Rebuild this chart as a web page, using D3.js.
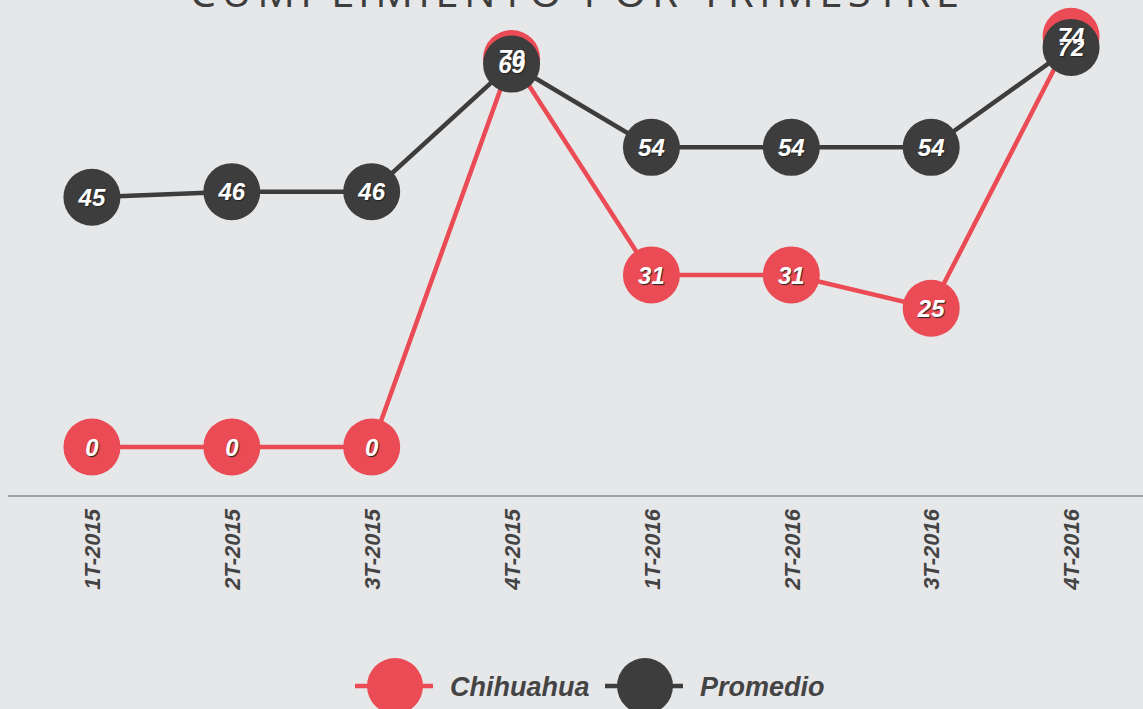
<!DOCTYPE html>
<html>
<head>
<meta charset="utf-8">
<script src="https://cdn.jsdelivr.net/npm/d3@7"></script>
<style>
  body { margin: 0; background: #e6e7e9; }
  #wrapper { width: 1143px; height: 709px; overflow: hidden; }
</style>
</head>
<body>
<div id="wrapper"></div>
<script>
const quarters = ["1T-2015", "2T-2015", "3T-2015", "4T-2015", "1T-2016", "2T-2016", "3T-2016", "4T-2016"]
const chihuahua = [0, 0, 0, 70, 31, 31, 25, 74]
const promedio = [45, 46, 46, 69, 54, 54, 54, 72]
const seriesNames = ["Chihuahua", "Promedio"]
const seriesColors = ["#ea4b54", "#3d3d3d"]

const width = 1143
const height = 709

const wrapper = d3.select("#wrapper")
    .append("svg")
    .attr("width", width)
    .attr("height", height)

wrapper.append("rect")
    .attr("width", width)
    .attr("height", height)
    .attr("fill", "#e6e7e9")

// title, cut off at the top like the original
wrapper.append("text")
    .attr("x", 577)
    .attr("y", 7)
    .attr("text-anchor", "middle")
    .attr("font-family", "'Open Sans', sans-serif")
    .attr("font-size", "42px")
    .attr("font-weight", 500)
    .attr("letter-spacing", "5.3px")
    .attr("fill", "#3d3d3d")
    .text("CUMPLIMIENTO POR TRIMESTRE")

const xScaler = d3.scalePoint()
    .domain(quarters)
    .range([22, 1141])
    .padding(0.5)

const yScaler = d3.scaleLinear()
    .domain([0, 80])
    .range([447, 3])

// x axis
const xAxisGen = d3.axisBottom(xScaler).tickSize(0).tickPadding(0)
const xAxis = wrapper.append("g")
    .attr("transform", "translate(0,496)")
    .call(xAxisGen)
xAxis.select(".domain").remove()
xAxis.append("line")
    .attr("x1", 8)
    .attr("x2", width)
    .attr("stroke", "#8a8a8a")
    .attr("stroke-width", 1.5)
xAxis.selectAll(".tick text")
    .attr("transform", "rotate(-90)")
    .attr("x", -13)
    .attr("y", 0)
    .attr("dy", "0.35em")
    .attr("text-anchor", "end")
    .attr("font-family", "'Liberation Sans', Arial, sans-serif")
    .attr("font-size", "22px")
    .attr("font-weight", "bold")
    .attr("font-style", "italic")
    .attr("fill", "#444")

const lineGen = d3.line()
    .x((d, i) => xScaler(quarters[i]))
    .y(d => yScaler(d))

const allSeries = [chihuahua, promedio]

allSeries.forEach((values, s) => {
    wrapper.append("path")
        .datum(values)
        .attr("d", lineGen)
        .attr("fill", "none")
        .attr("stroke", seriesColors[s])
        .attr("stroke-width", 4.5)
})

allSeries.forEach((values, s) => {
    wrapper.append("g")
        .selectAll("circle")
        .data(values)
        .join("circle")
        .attr("cx", (d, i) => xScaler(quarters[i]))
        .attr("cy", d => yScaler(d))
        .attr("r", 28.5)
        .attr("fill", seriesColors[s])
})

allSeries.forEach((values, s) => {
    wrapper.append("g")
        .selectAll("text")
        .data(values)
        .join("text")
        .attr("x", (d, i) => xScaler(quarters[i]))
        .attr("y", d => yScaler(d))
        .attr("dy", "0.36em")
        .attr("text-anchor", "middle")
        .attr("font-family", "'Liberation Sans', Arial, sans-serif")
        .attr("font-size", "24px")
        .attr("font-weight", "bold")
        .attr("font-style", "italic")
        .attr("fill", "#fff")
        .style("text-shadow", "1px 1px 1px #222")
        .text(d => d)
})

// legend
const legend = wrapper.append("g")
const legendX = [395, 645]
seriesNames.forEach((name, s) => {
    const g = legend.append("g").attr("transform", `translate(${legendX[s]},686)`)
    g.append("line")
        .attr("x1", -40)
        .attr("x2", 38)
        .attr("stroke", seriesColors[s])
        .attr("stroke-width", 4.5)
    g.append("circle")
        .attr("r", 28)
        .attr("fill", seriesColors[s])
    g.append("text")
        .attr("x", 55)
        .attr("dy", "0.36em")
        .attr("font-family", "'Liberation Sans', Arial, sans-serif")
        .attr("font-size", "27px")
        .attr("font-weight", "bold")
        .attr("font-style", "italic")
        .attr("fill", "#444")
        .text(name)
})
</script>
</body>
</html>
